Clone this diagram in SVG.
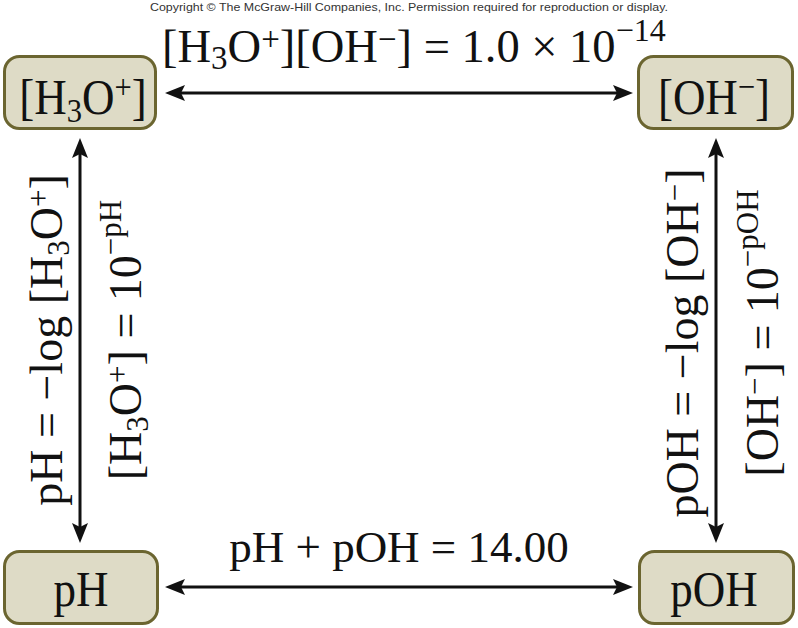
<svg xmlns="http://www.w3.org/2000/svg" width="798" height="628" viewBox="0 0 798 628">
<style>
.box{fill:#DEDBC6;stroke:#6B6530;stroke-width:3}
.t{font-family:"Liberation Serif","Times New Roman",serif;fill:#111}
.bt{font-size:50px;text-anchor:middle}
.lbl{font-size:45px}
.vl{font-size:46px;text-anchor:middle}
.cp{font-family:"Liberation Sans",Arial,sans-serif;font-size:11px;fill:#333}
.ln{stroke:#111;stroke-width:3;fill:none;marker-start:url(#ah);marker-end:url(#ah)}
</style>
<defs>
<marker id="ah" viewBox="0 0 20 16" refX="10" refY="8" markerWidth="20" markerHeight="16" orient="auto-start-reverse" markerUnits="userSpaceOnUse">
<path d="M0,0 L20,8 L0,16 L4,8 Z" fill="#111"/>
</marker>
</defs>
<rect width="798" height="628" fill="#fff"/>
<text class="cp" x="150" y="11" textLength="518" lengthAdjust="spacingAndGlyphs">Copyright © The McGraw-Hill Companies, Inc. Permission required for reproduction or display.</text>

<g id="connectors">
<path class="ln" d="M175,93 H623"/>
<path class="ln" d="M175,587 H623"/>
<path class="ln" d="M80,148 V533"/>
<path class="ln" d="M716,148 V533"/>
</g>

<g id="label-kw">
<text class="t" font-size="46.5" x="162" y="62">[H<tspan font-size="33" dy="7">3</tspan><tspan dy="-7">O</tspan><tspan font-size="33" dy="-12">+</tspan><tspan dy="12">][OH</tspan><tspan font-size="33" dy="-12">−</tspan><tspan dy="12">] = 1.0 × 10</tspan><tspan font-size="32" dy="-21">−14</tspan></text>
</g>
<g id="label-sum">
<text class="t lbl" x="399" y="562" text-anchor="middle">pH + pOH = 14.00</text>
</g>

<g id="label-ph">
<text class="t vl" transform="translate(62,340) rotate(-90)">pH = −log [H<tspan font-size="31" dy="7">3</tspan><tspan dy="-7">O</tspan><tspan font-size="31" dy="-13">+</tspan><tspan dy="13">]</tspan></text>
</g>
<g id="label-h3o">
<text class="t vl" transform="translate(141,340) rotate(-90)">[H<tspan font-size="31" dy="7">3</tspan><tspan dy="-7">O</tspan><tspan font-size="31" dy="-13">+</tspan><tspan dy="13">] = 10</tspan><tspan font-size="31" dy="-20">−pH</tspan></text>
</g>
<g id="label-poh">
<text class="t vl" transform="translate(698,343) rotate(-90)">pOH = −log [OH<tspan font-size="31" dy="-13">−</tspan><tspan dy="13">]</tspan></text>
</g>
<g id="label-oh">
<text class="t vl" transform="translate(778,333) rotate(-90)">[OH<tspan font-size="31" dy="-13">−</tspan><tspan dy="13">] = 10</tspan><tspan font-size="31" dy="-20">−pOH</tspan></text>
</g>

<g id="node-h3o">
<rect class="box" x="4.5" y="56.5" width="151" height="72" rx="15"/>
<text class="t bt" transform="translate(83,114) scale(0.9,1)">[H<tspan font-size="34" dy="8">3</tspan><tspan dy="-8">O</tspan><tspan font-size="34" dy="-16">+</tspan><tspan dy="16">]</tspan></text>
</g>
<g id="node-oh">
<rect class="box" x="638.5" y="56.5" width="154" height="72" rx="15"/>
<text class="t bt" transform="translate(714,114) scale(0.9,1)">[OH<tspan font-size="34" dy="-16">−</tspan><tspan dy="16">]</tspan></text>
</g>
<g id="node-ph">
<rect class="box" x="4.5" y="551.5" width="153" height="72" rx="15"/>
<text class="t bt" transform="translate(81,606) scale(0.9,1)">pH</text>
</g>
<g id="node-poh">
<rect class="box" x="639.5" y="551.5" width="154" height="72" rx="15"/>
<text class="t bt" transform="translate(714,606) scale(0.9,1)">pOH</text>
</g>
</svg>
